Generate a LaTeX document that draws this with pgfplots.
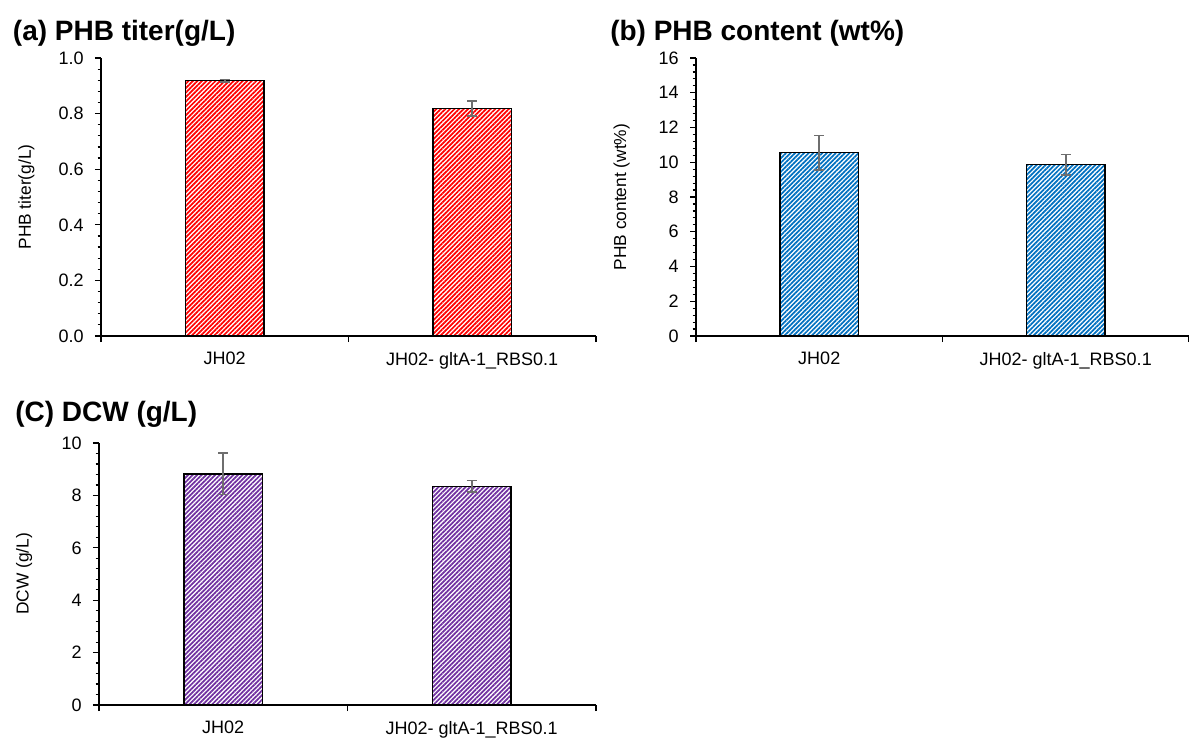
\documentclass[border=0pt]{standalone}
\usepackage{fontspec}
\setmainfont{Liberation Sans}
\usepackage{pgfplots}
\pgfplotsset{compat=1.18}
\usetikzlibrary{patterns.meta}

\definecolor{barred}{RGB}{255,0,0}
\definecolor{barblue}{RGB}{0,112,192}
\definecolor{barpurple}{RGB}{112,48,160}
\definecolor{errgray}{RGB}{110,110,110}

\pgfplotsset{
  panel/.style={
    scale only axis,
    anchor=south west,
    axis x line=bottom, axis y line=left,
    axis line style={-, line width=0.9pt},
    xmin=-0.5, xmax=1.5,
    xtick={-0.5,0.5,1.5},
    xticklabels={JH02, JH02- gltA-1\_RBS0.1},
    x tick label as interval,
    tick align=outside,
    major tick length=4.5pt, minor tick length=2.5pt,
    tick style={black, line width=0.9pt},
    minor y tick num=4,
    ymin=0,
    yticklabel style={font=\fontsize{13.5}{15}\selectfont, xshift=-5pt},
    xticklabel style={font=\fontsize{13.5}{15}\selectfont, yshift=-4pt},
    /pgf/number format/assume math mode=true,
    ylabel style={font=\fontsize{13}{15}\selectfont, at={(axis description cs:-0.125,0.5)}, anchor=south},
  },
  hbar/.style={
    ybar, bar width=59pt, draw=black, line width=0.9pt,
    pattern={Lines[angle=45, distance=2.4pt, line width=1.3pt]}, pattern color=#1,
    error bars/.cd, y dir=both, y explicit,
    error bar style={errgray, line width=1.2pt},
    error mark options={errgray, line width=1.2pt, mark size=3.8pt, rotate=90},
  },
}

\begin{document}
\begin{tikzpicture}
\useasboundingbox (0,0) rectangle (891.75pt,-555pt);

% (a) PHB titer
\begin{axis}[panel, at={(75.75pt,-252pt)}, width=371.25pt, height=208.5pt,
  ymax=1.0, ytick distance=0.2,
  yticklabel style={/pgf/number format/.cd, fixed, fixed zerofill, precision=1},
  ylabel={PHB titer(g/L)}]
\addplot[hbar=barred] coordinates {(0,0.918) +- (0,0.005) (1,0.818) +- (0,0.027)};
\end{axis}

% (b) PHB content
\begin{axis}[panel, at={(522pt,-252pt)}, width=369.75pt, height=208.5pt,
  ymax=16, ytick distance=2,
  ylabel={PHB content (wt\%)}]
\addplot[hbar=barblue] coordinates {(0,10.55) +- (0,1.0) (1,9.85) +- (0,0.6)};
\end{axis}

% (c) DCW
\begin{axis}[panel, at={(74.25pt,-528.75pt)}, width=372.75pt, height=196.5pt,
  ymax=10, ytick distance=2,
  ylabel={DCW (g/L)}]
\addplot[hbar=barpurple] coordinates {(0,8.82) +- (0,0.79) (1,8.35) +- (0,0.22)};
\end{axis}

\begin{scope}[every node/.style={anchor=base west, inner sep=0pt, font=\fontsize{21}{24}\selectfont\bfseries}]
\node at (9.5pt,-30pt) {(a) PHB titer(g/L)};
\node at (457.5pt,-30pt) {(b) PHB content (wt\%)};
\node at (11.25pt,-316pt) {(C) DCW (g/L)};
\end{scope}
\end{tikzpicture}
\end{document}
